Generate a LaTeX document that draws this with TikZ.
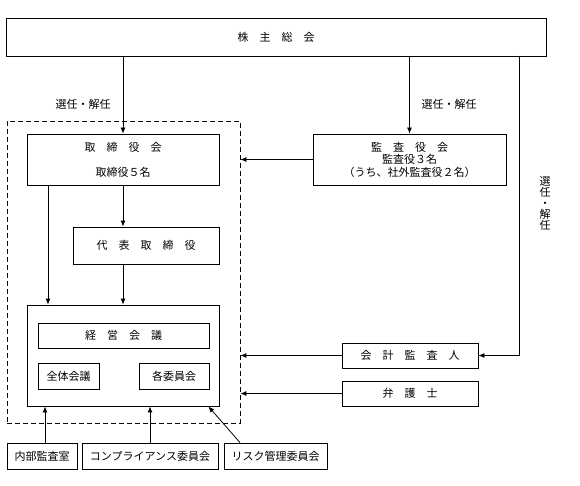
\documentclass[tikz,border=0pt]{standalone}
\usepackage{fontspec}
\setmainfont{Noto Sans CJK JP}
\usetikzlibrary{arrows.meta}
\begin{document}
\begin{tikzpicture}[x=1pt,y=-1pt,
  box/.style={draw, line width=0.8pt, inner sep=0pt, font=\fontsize{11}{12}\selectfont, align=center},
  arr/.style={line width=0.8pt, -{Latex[length=6pt,width=5pt]}},
  ln/.style={line width=0.8pt},
  lbl/.style={font=\fontsize{11}{12}\selectfont, inner sep=0pt}]
\useasboundingbox (0,0) rectangle (580,486);
% boxes
\node[box, minimum width=540pt, minimum height=38pt] (top) at (276,37) {株　主　総　会};
\node[draw, dashed, line width=0.8pt, dash pattern=on 5pt off 3pt, minimum width=233pt, minimum height=302pt, inner sep=0pt] (dash) at (123.5,272) {};
\node[box, minimum width=192pt, minimum height=51pt, font=\fontsize{11}{25}\selectfont] (tori) at (123,159.5) {取　締　役　会\\取締役５名};
\node[box, minimum width=193pt, minimum height=51pt, font=\fontsize{11}{12.5}\selectfont] (kansa) at (409.5,159.5) {監　査　役　会\\監査役３名\\（うち、社外監査役２名）};
\node[box, minimum width=146pt, minimum height=37pt] (daihyo) at (146,245.5) {代　表　取　締　役};
\node[box, minimum width=192pt, minimum height=101pt] (big) at (123,355.5) {};
\node[box, minimum width=171pt, minimum height=25pt] (keiei) at (123.5,335.5) {経　営　会　議};
\node[box, minimum width=61pt, minimum height=26pt] (zentai) at (68.5,376) {全体会議};
\node[box, minimum width=70pt, minimum height=26pt] (kakuiin) at (174,376) {各委員会};
\node[box, minimum width=70pt, minimum height=26pt] (naibu) at (42,456) {内部監査室};
\node[box, minimum width=136pt, minimum height=26pt] (comp) at (150,456) {コンプライアンス委員会};
\node[box, minimum width=103pt, minimum height=26pt] (risk) at (275.5,456) {リスク管理委員会};
\node[box, minimum width=136pt, minimum height=25pt] (kaikei) at (410,355.5) {会　計　監　査　人};
\node[box, minimum width=136pt, minimum height=25pt] (bengo) at (410,393.5) {弁　護　士};
% labels
\node[lbl] (l1) at (83,104) {選任・解任};
\node[lbl] (l2) at (449,104) {選任・解任};
\node[lbl, align=center, font=\fontsize{11}{11}\selectfont] (l3) at (545,203) {選\\任\\・\\解\\任};
% connectors
\coordinate (rl) at (519,56);
\draw[arr] (top.south -| tori.north) -- (tori.north);
\draw[arr] (top.south -| kansa.north) -- (kansa.north);
\draw[arr] (rl) |- (kaikei.east);
\draw[arr] (kansa.west) -- (kansa.west -| dash.east);
\draw[arr] (tori.south) -- (tori.south |- daihyo.north);
\draw[arr] (daihyo.south -| big.north) -- (big.north);
\draw[arr] ([xshift=-75pt]tori.south) -- ([xshift=-75pt]big.north);
\draw[arr] (kaikei.west) -- (kaikei.west -| dash.east);
\draw[arr] (bengo.west) -- (bengo.west -| dash.east);
\draw[arr] ([xshift=3pt]naibu.north) -- ([xshift=3pt]naibu.north |- big.south);
\draw[arr] (comp.north) -- (comp.north |- big.south);
\draw[arr] ([xshift=-35.5pt]risk.north) -- ([xshift=-11pt]big.south east);
\end{tikzpicture}
\end{document}
